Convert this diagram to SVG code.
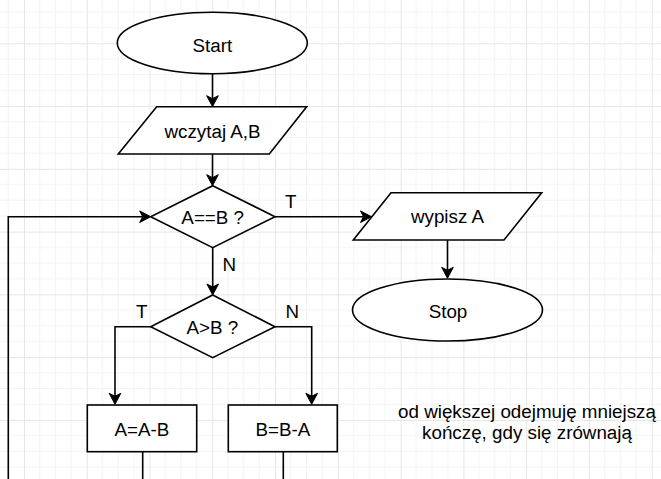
<svg xmlns="http://www.w3.org/2000/svg" width="661" height="479" viewBox="0 0 661 479">
<style>
.s{fill:#fff;stroke:#000;stroke-width:1.6}
.e{fill:none;stroke:#000;stroke-width:1.6}
.t{font-family:"Liberation Sans",Arial,sans-serif;font-size:18.8px;fill:#000;text-anchor:middle}
</style>
<defs>
<pattern id="grid" patternUnits="userSpaceOnUse" x="24" y="43.3" width="62.77" height="62.77">
<path d="M15.69,0V62.77M31.38,0V62.77M47.08,0V62.77M0,15.69H62.77M0,31.38H62.77M0,47.08H62.77" stroke="#f3f3f3" stroke-width="1" fill="none"/>
<path d="M0.5,0V62.77M0,0.5H62.77" stroke="#e6e6e6" stroke-width="1" fill="none"/>
</pattern>
<marker id="arr" markerUnits="userSpaceOnUse" markerWidth="16" markerHeight="16" viewBox="-14 -8 16 16" refX="-3" refY="0" orient="auto">
<path d="M0,0 L-11,-5.8 L-8,0 L-11,5.8 Z" fill="#000" stroke="#000" stroke-width="1"/>
</marker>
</defs>
<rect width="661" height="479" fill="#fff"/>
<rect width="661" height="479" fill="url(#grid)"/>

<g id="connectors">
<path class="e" d="M212.5,73.7V103.7" marker-end="url(#arr)"/>
<path class="e" d="M212.5,154V182.7" marker-end="url(#arr)"/>
<path class="e" d="M275,216.7H368.5" marker-end="url(#arr)"/>
<path class="e" d="M447.5,240V275.3" marker-end="url(#arr)"/>
<path class="e" d="M212.7,247.7V292" marker-end="url(#arr)"/>
<path class="e" d="M150.7,326.7H115V401.3" marker-end="url(#arr)"/>
<path class="e" d="M275,326.7H311.7V401.3" marker-end="url(#arr)"/>
<path class="e" d="M142.7,451.7V482"/>
<path class="e" d="M283.3,451.7V482"/>
<path class="e" d="M8.3,482V216.7H147.7" marker-end="url(#arr)"/>
<text class="t" x="290.7" y="208.3">T</text>
<text class="t" x="229.3" y="270.7">N</text>
<text class="t" x="141.7" y="318.3">T</text>
<text class="t" x="292.3" y="318.3">N</text>
</g>

<g id="start">
<ellipse class="s" cx="212.3" cy="43" rx="95" ry="30.7"/>
<text class="t" x="212.3" y="51.5">Start</text>
</g>
<g id="read">
<polygon class="s" points="156.7,106.7 306.7,106.7 269.3,154 118.3,154"/>
<text class="t" x="212.5" y="137.7">wczytaj A,B</text>
</g>
<g id="cond1">
<polygon class="s" points="212.7,185.7 275,216.7 212.7,247.7 150.7,216.7"/>
<text class="t" x="212.7" y="224">A==B ?</text>
</g>
<g id="write">
<polygon class="s" points="391,192.7 541.7,192.7 504,240 353.3,240"/>
<text class="t" x="447.5" y="223.3">wypisz A</text>
</g>
<g id="stop">
<ellipse class="s" cx="447.5" cy="310" rx="95" ry="31"/>
<text class="t" x="448" y="317.5">Stop</text>
</g>
<g id="cond2">
<polygon class="s" points="212.7,295 275,326.7 212.7,357.7 150.7,326.7"/>
<text class="t" x="212.3" y="334">A&gt;B ?</text>
</g>
<g id="subA">
<rect class="s" x="87.3" y="405" width="109.4" height="46.7"/>
<text class="t" x="141.8" y="436">A=A-B</text>
</g>
<g id="subB">
<rect class="s" x="228.3" y="405" width="109" height="46.7"/>
<text class="t" x="283" y="436">B=B-A</text>
</g>
<g id="note">
<text class="t" x="527" y="418.3">od większej odejmuję mniejszą</text>
<text class="t" x="527" y="439.3">kończę, gdy się zrównają</text>
</g>
</svg>
